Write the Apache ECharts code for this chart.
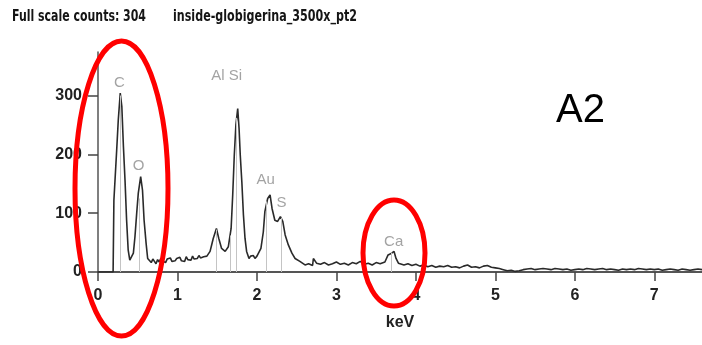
<!DOCTYPE html>
<html>
<head>
<meta charset="utf-8">
<script src="https://cdn.jsdelivr.net/npm/echarts@6/dist/echarts.min.js"></script>
<style>
  html, body { margin: 0; padding: 0; background: #fff; }
  #chart { width: 702px; height: 345px; }
</style>
</head>
<body>
<div id="chart"></div>
<script>
// EDS spectrum: energy (keV) and counts, split into regions
const lowEnergy = [
  [0.00, 0], [0.19, 0], [0.20, 122], [0.235, 207], [0.255, 258], [0.28, 304],
  [0.30, 281], [0.32, 213], [0.34, 156], [0.36, 88], [0.38, 37], [0.40, 20],
  [0.42, 18], [0.445, 32], [0.465, 60], [0.487, 100], [0.507, 134], [0.537, 162],
  [0.56, 139], [0.58, 88], [0.605, 49], [0.625, 23], [0.65, 20], [0.67, 16],
  [0.69, 22], [0.71, 18], [0.73, 14], [0.75, 21], [0.77, 17], [0.79, 23],
  [0.81, 19], [0.83, 21], [0.85, 16], [0.87, 22], [0.89, 20], [0.91, 24],
  [0.93, 18], [0.95, 21], [0.97, 19], [0.99, 23], [1.01, 20], [1.03, 25],
  [1.05, 19], [1.07, 22], [1.09, 18], [1.11, 26], [1.13, 21], [1.15, 24],
  [1.17, 20], [1.19, 27], [1.21, 22], [1.23, 25], [1.25, 23], [1.27, 28],
  [1.29, 24], [1.31, 27], [1.33, 26], [1.35, 29], [1.37, 27]
];
const peakRegion = [
  [1.39, 29], [1.41, 35], [1.43, 46], [1.45, 57], [1.49, 74], [1.52, 57],
  [1.555, 40], [1.60, 35], [1.64, 43], [1.675, 74], [1.695, 131], [1.715, 199],
  [1.735, 250], [1.758, 278], [1.775, 244], [1.79, 199], [1.81, 153], [1.83, 97],
  [1.85, 57], [1.87, 35], [1.90, 23], [1.92, 27], [1.935, 24], [1.955, 28],
  [1.975, 23], [2.00, 27], [2.02, 26], [2.05, 40], [2.08, 68], [2.10, 103],
  [2.135, 125], [2.165, 131], [2.19, 108], [2.225, 88], [2.26, 86], [2.295, 94],
  [2.325, 86], [2.355, 63], [2.395, 46], [2.44, 32], [2.48, 23], [2.54, 18],
  [2.605, 12]
];
const tail = [
  [2.65, 14], [2.70, 11], [2.71, 23], [2.75, 15], [2.80, 13], [2.85, 16],
  [2.90, 12], [2.95, 14], [3.00, 17], [3.05, 13], [3.10, 15], [3.15, 12],
  [3.20, 16], [3.25, 14], [3.30, 18], [3.35, 13], [3.40, 15], [3.45, 12],
  [3.50, 16], [3.55, 14], [3.61, 17], [3.65, 29], [3.695, 32], [3.725, 35],
  [3.75, 23], [3.78, 15], [3.85, 12], [3.90, 14], [3.95, 11], [4.00, 13],
  [4.05, 10], [4.10, 12], [4.15, 9], [4.20, 11], [4.25, 8], [4.30, 10],
  [4.35, 9], [4.40, 11], [4.45, 8], [4.50, 9], [4.55, 7], [4.60, 10],
  [4.65, 12], [4.70, 8], [4.75, 9], [4.80, 7], [4.85, 10], [4.90, 11],
  [4.95, 8], [5.00, 7], [5.05, 6], [5.10, 4], [5.15, 2], [5.20, 3],
  [5.25, 1], [5.30, 2], [5.35, 4], [5.40, 5], [5.45, 6], [5.50, 4],
  [5.55, 5], [5.60, 6], [5.65, 5], [5.70, 4], [5.75, 6], [5.80, 5],
  [5.85, 4], [5.90, 5], [5.95, 3], [6.00, 4], [6.05, 5], [6.10, 4],
  [6.15, 6], [6.20, 5], [6.25, 4], [6.30, 5], [6.35, 6], [6.40, 4],
  [6.45, 5], [6.50, 4], [6.55, 3], [6.60, 5], [6.65, 4], [6.70, 5],
  [6.75, 4], [6.80, 6], [6.85, 5], [6.90, 4], [6.95, 5], [7.00, 4],
  [7.05, 5], [7.10, 3], [7.15, 4], [7.20, 5], [7.25, 4], [7.30, 3],
  [7.35, 5], [7.40, 4], [7.45, 3], [7.50, 4], [7.55, 5], [7.60, 4]
];

// Element emission lines (keV) and the height each marker reaches
const lineKeV    = [0.277, 0.525, 1.486, 1.66, 1.74, 2.12, 2.31, 3.69];
const lineHeight = [300, 125, 72, 62, 262, 120, 92, 33];

// Element labels
const elementNames  = ['C', 'O', 'Al Si', 'Au', 'S', 'Ca'];
const elementKeV    = [0.27, 0.51, 1.62, 2.11, 2.31, 3.72];
const elementCounts = [321, 180, 333, 156, 117, 52];

const xTicks = [0, 1, 2, 3, 4, 5, 6, 7];
const yTicks = [0, 100, 200, 300];

const titleLeft  = 'Full scale counts: 304';
const titleRight = 'inside-globigerina_3500x_pt2';
const panelTag   = 'A2';

const spectrum = lowEnergy.concat(peakRegion, tail);

// Fit condensed title text into its width
const titleFont = 'bold 16px "DejaVu Sans"';
const ctx = document.createElement('canvas').getContext('2d');
ctx.font = titleFont;
function fitScale(text, width) { return width / ctx.measureText(text).width; }

const chart = echarts.init(document.getElementById('chart'), null, { renderer: 'canvas' });

const axisFont = { fontFamily: '"Liberation Sans", Arial, sans-serif', fontWeight: 'bold', fontSize: 16, color: '#222' };

chart.setOption({
  animation: false,
  backgroundColor: '#ffffff',
  grid: { left: 98, right: 0, top: 52, bottom: 73, containLabel: false, outerBoundsMode: 'none' },
  xAxis: {
    type: 'value', min: 0, max: 7.6, interval: 1,
    name: 'keV', nameLocation: 'middle', nameGap: 43,
    nameTextStyle: axisFont,
    axisLine: { show: true, onZero: false, lineStyle: { color: '#555', width: 2 } },
    axisTick: { show: true, length: 9, customValues: xTicks, lineStyle: { color: '#444', width: 1.5 } },
    axisLabel: Object.assign({ margin: 16, customValues: xTicks }, axisFont),
    splitLine: { show: false }
  },
  yAxis: {
    type: 'value', min: 0, max: 374, interval: 100,
    axisLine: { show: true, lineStyle: { color: '#555', width: 1.5 } },
    axisTick: { show: true, length: 10, customValues: yTicks, lineStyle: { color: '#444', width: 1.5 } },
    axisLabel: Object.assign({ margin: 16, customValues: yTicks }, axisFont),
    splitLine: { show: false }
  },
  series: [
    {
      type: 'line',
      data: spectrum,
      symbol: 'none',
      lineStyle: { color: '#2a2a2a', width: 1.6 },
      z: 3,
      markLine: {
        silent: true,
        symbol: 'none',
        label: { show: false },
        lineStyle: { color: '#c4c4c4', width: 1, type: 'solid' },
        data: lineKeV.map((k, i) => [{ coord: [k, 0] }, { coord: [k, lineHeight[i]] }])
      }
    },
    {
      type: 'scatter',
      symbolSize: 0,
      silent: true,
      data: elementNames.map((n, i) => ({ name: n, value: [elementKeV[i], elementCounts[i]] })),
      label: {
        show: true, position: 'inside', formatter: p => p.name,
        color: '#8c8c8c', fontSize: 15, fontFamily: '"Liberation Sans", Arial, sans-serif'
      },
      z: 4
    }
  ],
  graphic: [
    {
      type: 'text', x: 12, y: 17, scaleX: fitScale(titleLeft, 134),
      style: { text: titleLeft, x: 0, y: 0, font: titleFont, fill: '#151515', align: 'left', verticalAlign: 'middle' }
    },
    {
      type: 'text', x: 173, y: 17, scaleX: fitScale(titleRight, 184),
      style: { text: titleRight, x: 0, y: 0, font: titleFont, fill: '#151515', align: 'left', verticalAlign: 'middle' }
    },
    {
      type: 'text', x: 556, y: 111,
      style: { text: panelTag, x: 0, y: 0, font: '40px "Liberation Sans", Arial, sans-serif', fill: '#000', align: 'left', verticalAlign: 'middle' }
    },
    {
      type: 'ellipse', z: 100,
      shape: { cx: 121.5, cy: 188.5, rx: 46.5, ry: 147.5 },
      style: { fill: 'none', stroke: '#ff0000', lineWidth: 5 }
    },
    {
      type: 'ellipse', z: 100,
      shape: { cx: 394, cy: 253, rx: 31, ry: 53 },
      style: { fill: 'none', stroke: '#ff0000', lineWidth: 5 }
    }
  ]
});
</script>
</body>
</html>
